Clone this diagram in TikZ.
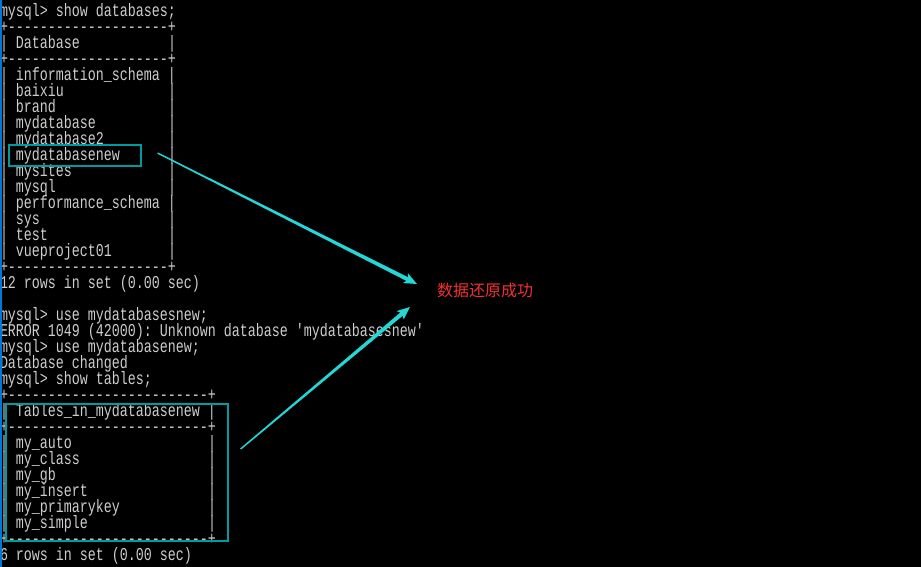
\documentclass[tikz,border=0pt]{standalone}
\usepackage{fontspec}
\setmonofont[FakeStretch=0.7407]{Liberation Mono}
\newfontfamily\cjkfont{Noto Sans CJK SC}
\usetikzlibrary{calc}
\definecolor{termbg}{RGB}{0,0,0}
\definecolor{termfg}{RGB}{205,205,205}
\definecolor{winblue}{RGB}{0,120,215}
\definecolor{boxteal}{RGB}{0,155,160}
\definecolor{arrowcyan}{RGB}{35,215,215}
\definecolor{msgred}{RGB}{240,50,50}
\newcommand\tsp[1]{\setbox0\hbox{x}\hspace*{#1\wd0}}
\newcommand\taperarrow[2]{%
  \path ($(#2)!11pt!(#1)$) coordinate (#2-n) ($(#2)!13pt!(#1)$) coordinate (#2-b);
  \fill[arrowcyan] ($(#1)!0.7pt!90:(#2)$) -- ($(#2-n)!2pt!90:(#2)$) -- ($(#2-b)!5.5pt!90:(#2)$) -- (#2)
     -- ($(#2-b)!5.5pt!-90:(#2)$) -- ($(#2-n)!2pt!-90:(#2)$) -- ($(#1)!0.7pt!-90:(#2)$) -- cycle;}
\tikzset{
  term/.style={anchor=base west, inner sep=0pt, outer sep=0pt, text=termfg,
    text height=11.5pt, text depth=3.5pt,
    font=\ttfamily\fontsize{18pt}{16pt}\selectfont},
  hlbox/.style={draw=boxteal, line width=1.2pt, inner sep=0pt, fill=none},
  msg/.style={anchor=west, inner sep=0pt, text=msgred, font=\cjkfont\fontsize{16pt}{18pt}\selectfont}
}
\begin{document}
\begin{tikzpicture}[x=1pt,y=-1pt]
\useasboundingbox (0,0) rectangle (921,567);
\fill[termbg] (0,0) rectangle (921,567);
\node[term] (l0) at (0,16.5) {mysql> show databases;};
\node[term] (l1) at (0,32.5) {+--------------------+};
\node[term] (l2) at (0,48.5) {| Database\tsp{11}|};
\node[term] (l3) at (0,64.5) {+--------------------+};
\node[term] (l4) at (0,80.5) {| information\_schema |};
\node[term] (l5) at (0,96.5) {| baixiu\tsp{13}|};
\node[term] (l6) at (0,112.5) {| brand\tsp{14}|};
\node[term] (l7) at (0,128.5) {| mydatabase\tsp{9}|};
\node[term] (l8) at (0,144.5) {| mydatabase2\tsp{8}|};
\node[term] (l9) at (0,160.5) {| mydatabasenew\tsp{6}|};
\node[term] (l10) at (0,176.5) {| mysites\tsp{12}|};
\node[term] (l11) at (0,192.5) {| mysql\tsp{14}|};
\node[term] (l12) at (0,208.5) {| performance\_schema |};
\node[term] (l13) at (0,224.5) {| sys\tsp{16}|};
\node[term] (l14) at (0,240.5) {| test\tsp{15}|};
\node[term] (l15) at (0,256.5) {| vueproject01\tsp{7}|};
\node[term] (l16) at (0,272.5) {+--------------------+};
\node[term] (l17) at (0,288.5) {12 rows in set (0.00 sec)};
\node[term] (l19) at (0,320.5) {mysql> use mydatabasesnew;};
\node[term] (l20) at (0,336.5) {ERROR 1049 (42000): Unknown database 'mydatabasesnew'};
\node[term] (l21) at (0,352.5) {mysql> use mydatabasenew;};
\node[term] (l22) at (0,368.5) {Database changed};
\node[term] (l23) at (0,384.5) {mysql> show tables;};
\node[term] (l24) at (0,400.5) {+-------------------------+};
\node[term] (l25) at (0,416.5) {| Tables\_in\_mydatabasenew |};
\node[term] (l26) at (0,432.5) {+-------------------------+};
\node[term] (l27) at (0,448.5) {| my\_auto\tsp{17}|};
\node[term] (l28) at (0,464.5) {| my\_class\tsp{16}|};
\node[term] (l29) at (0,480.5) {| my\_gb\tsp{19}|};
\node[term] (l30) at (0,496.5) {| my\_insert\tsp{15}|};
\node[term] (l31) at (0,512.5) {| my\_primarykey\tsp{11}|};
\node[term] (l32) at (0,528.5) {| my\_simple\tsp{15}|};
\node[term] (l33) at (0,544.5) {+-------------------------+};
\node[term] (l34) at (0,560.5) {6 rows in set (0.00 sec)};
% left window edge
\fill[winblue] (0,0) rectangle (1.7,567);
% highlight boxes
\node[hlbox, minimum width=132pt, minimum height=21pt] (box1) at (75,155.5) {};
\node[hlbox, minimum width=222pt, minimum height=137pt] (box2) at (117,472.5) {};
% message
\node[msg] (msg) at (437,290) {数据还原成功};
% arrows
\coordinate (s1) at ($(box1.east)+(16,-2.5)$);
\coordinate (s2) at ($(box2.east)+(12,-23.5)$);
\coordinate (t1) at ($(msg.west)+(-20,-6)$);
\coordinate (t2) at ($(msg.west)+(-27,17)$);
\taperarrow{s1}{t1}
\taperarrow{s2}{t2}
\end{tikzpicture}
\end{document}
